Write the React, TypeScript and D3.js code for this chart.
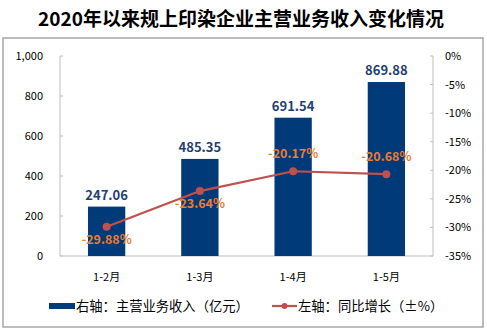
import React from "react";
import * as d3 from "d3";

const categories = ["1-2月", "1-3月", "1-4月", "1-5月"];
const revenue = [247.06, 485.35, 691.54, 869.88];
const growth = [-29.88, -23.64, -20.17, -20.68];
const leftTicks = [0, 200, 400, 600, 800, 1000];
const rightTicks = [0, -5, -10, -15, -20, -25, -30, -35];
const growthLabelAbove = [false, false, true, true];

const W = 487;
const H = 332;
const FONT = "'Noto Sans CJK SC', 'Noto Sans', sans-serif";

export default function App() {
  const plotL = 60, plotR = 433, plotT = 56, plotB = 256;
  const x = d3.scaleBand<string>().domain(categories).range([plotL, plotR]).paddingInner(0.6).paddingOuter(0.3);
  const yL = d3.scaleLinear().domain([0, 1000]).range([plotB, plotT]);
  const yR = d3.scaleLinear().domain([-35, 0]).range([plotB, plotT]);
  const cx = (c: string) => (x(c) as number) + x.bandwidth() / 2;
  const line = d3.line<number>().x((_, i) => cx(categories[i])).y((d) => yR(d));
  const axisColor = "#bfbfbf";
  const fmt = d3.format(",");

  return (
    <svg width={W} height={H} style={{ position: "absolute", left: 0, top: 0 }} fontFamily={FONT}>
      <rect x={0} y={0} width={W} height={H} fill="#fff" />
      <text x={241} y={26} textAnchor="middle" fontSize={19} fontWeight="bold" fill="#000">
        2020年以来规上印染企业主营业务收入变化情况
      </text>
      <rect x={3} y={38} width={480} height={289} fill="none" stroke="#a6a6a6" strokeWidth={1.5} />

      {/* axes */}
      <line x1={plotL} x2={plotL} y1={plotT} y2={plotB} stroke={axisColor} />
      <line x1={plotR} x2={plotR} y1={plotT} y2={plotB} stroke={axisColor} />
      <line x1={plotL} x2={plotR} y1={plotB} y2={plotB} stroke={axisColor} />
      {leftTicks.map((t) => (
        <g key={"l" + t}>
          <line x1={plotL} x2={plotL + 3} y1={yL(t)} y2={yL(t)} stroke={axisColor} />
          <text x={43} y={yL(t) + 4} textAnchor="end" fontSize={11} fill="#000">
            {fmt(t)}
          </text>
        </g>
      ))}
      {rightTicks.map((t) => (
        <g key={"r" + t}>
          <line x1={plotR - 3} x2={plotR} y1={yR(t)} y2={yR(t)} stroke={axisColor} />
          <text x={445} y={yR(t) + 4} textAnchor="start" fontSize={11} fill="#000">
            {t + "%"}
          </text>
        </g>
      ))}

      {/* bars */}
      {categories.map((c, i) => (
        <g key={c}>
          <rect x={x(c)} y={yL(revenue[i])} width={x.bandwidth()} height={plotB - yL(revenue[i])} fill="#003a78" />
          <text x={cx(c)} y={yL(revenue[i]) - 7} textAnchor="middle" fontSize={13} fontWeight="bold" fill="#1f3f73">
            {revenue[i].toFixed(2)}
          </text>
          <text x={cx(c)} y={281} textAnchor="middle" fontSize={11} fill="#000">
            {c}
          </text>
        </g>
      ))}

      {/* line */}
      <path d={line(growth) || ""} fill="none" stroke="#c0504d" strokeWidth={2.2} />
      {growth.map((g, i) => (
        <g key={"p" + i}>
          <circle cx={cx(categories[i])} cy={yR(g)} r={4} fill="#c0504d" />
          <text
            x={cx(categories[i])}
            y={growthLabelAbove[i] ? yR(g) - 13 : yR(g) + 17}
            textAnchor="middle"
            fontSize={12.5}
            fontWeight={600}
            fill="#ed7d31"
          >
            {g.toFixed(2) + "%"}
          </text>
        </g>
      ))}

      {/* legend */}
      <rect x={49} y={303} width={26} height={6} fill="#003a78" />
      <text x={76} y={311} fontSize={13.3} fill="#000">右轴：主营业务收入（亿元）</text>
      <line x1={272} x2={297} y1={306} y2={306} stroke="#c0504d" strokeWidth={2.2} />
      <circle cx={284.5} cy={306} r={3} fill="#c0504d" />
      <text x={298} y={311} fontSize={13.3} fill="#000">左轴：同比增长（±%）</text>
    </svg>
  );
}
